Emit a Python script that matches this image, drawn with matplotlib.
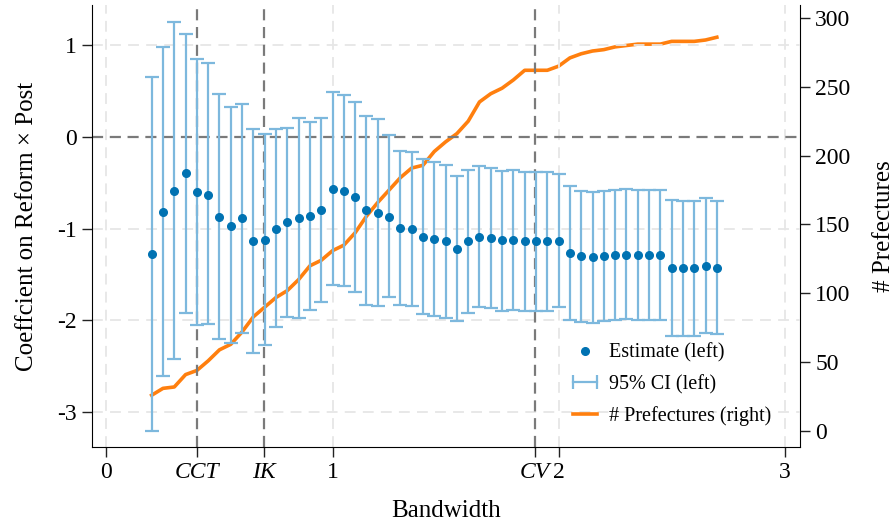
import numpy as np
import matplotlib
matplotlib.use("Agg")
import matplotlib.pyplot as plt
from matplotlib.lines import Line2D
from matplotlib.legend_handler import HandlerLine2D

plt.rcParams['font.family'] = ['Liberation Serif', 'DejaVu Serif']

bandwidth = [0.20, 0.25, 0.30, 0.35, 0.40, 0.45, 0.50, 0.55, 0.60, 0.65,
             0.70, 0.75, 0.80, 0.85, 0.90, 0.95, 1.00, 1.05, 1.10, 1.15,
             1.20, 1.25, 1.30, 1.35, 1.40, 1.45, 1.50, 1.55, 1.60, 1.65,
             1.70, 1.75, 1.80, 1.85, 1.90, 1.95, 2.00, 2.05, 2.10, 2.15,
             2.20, 2.25, 2.30, 2.35, 2.40, 2.45, 2.50, 2.55, 2.60, 2.65, 2.70]
estimate = [-1.28, -0.82, -0.59, -0.40, -0.60, -0.63, -0.87, -0.97, -0.89, -1.14,
            -1.12, -1.00, -0.93, -0.88, -0.86, -0.80, -0.57, -0.59, -0.66, -0.80,
            -0.83, -0.87, -0.99, -1.01, -1.09, -1.11, -1.14, -1.22, -1.14, -1.09,
            -1.10, -1.13, -1.12, -1.14, -1.14, -1.14, -1.14, -1.27, -1.30, -1.31,
            -1.30, -1.29, -1.29, -1.29, -1.29, -1.29, -1.43, -1.43, -1.43, -1.41, -1.43]
ci_upper = [0.65, 0.98, 1.25, 1.12, 0.85, 0.80, 0.47, 0.32, 0.36, 0.08,
            0.03, 0.08, 0.10, 0.21, 0.16, 0.21, 0.49, 0.45, 0.38, 0.23,
            0.19, 0.02, -0.15, -0.17, -0.24, -0.27, -0.31, -0.43, -0.36, -0.32,
            -0.34, -0.37, -0.36, -0.38, -0.38, -0.38, -0.41, -0.54, -0.59, -0.60,
            -0.59, -0.58, -0.57, -0.58, -0.58, -0.58, -0.69, -0.70, -0.70, -0.67, -0.70]
ci_lower = [-3.21, -2.61, -2.42, -1.92, -2.05, -2.04, -2.20, -2.25, -2.14, -2.36,
            -2.27, -2.07, -1.96, -1.97, -1.89, -1.80, -1.62, -1.63, -1.69, -1.83,
            -1.84, -1.75, -1.83, -1.84, -1.93, -1.95, -1.97, -2.01, -1.92, -1.85,
            -1.87, -1.90, -1.89, -1.90, -1.90, -1.90, -1.86, -2.00, -2.02, -2.03,
            -2.01, -2.00, -1.99, -2.00, -2.00, -2.00, -2.17, -2.17, -2.17, -2.14, -2.15]
prefectures = [26, 31, 32, 41, 44, 51, 59, 63, 72, 83,
               90, 97, 102, 110, 120, 124, 131, 135, 144, 156,
               166, 175, 184, 191, 193, 203, 210, 216, 225, 239,
               245, 249, 255, 262, 262, 262, 265, 271, 274, 276,
               277, 279, 280, 281, 281, 281, 283, 283, 283, 284, 286]

ref_bw_pos = [0.40, 0.695, 1.895]
ref_bw_labels = ['CCT', 'IK', 'CV']
xtick_pos = [0, 1, 2, 3]
ytick_left = [1, 0, -1, -2, -3]
ytick_right = [0, 50, 100, 150, 200, 250, 300]

dot_color = '#0072B2'
ci_color = '#7DB8DD'
orange = '#FF7F0E'

fig = plt.figure(figsize=(8.94, 5.23), dpi=100)
ax = fig.add_axes([0.1029, 0.1453, 0.792, 0.8451])
ax2 = ax.twinx()

bw = np.array(bandwidth)
est = np.array(estimate)
lo = np.array(ci_lower)
hi = np.array(ci_upper)

# grid
for x in xtick_pos:
    ax.axvline(x, color='#e6e6e6', lw=1.3, ls=(0, (6, 4)), zorder=0)
for y in [1, -1, -2, -3]:
    ax.axhline(y, color='#e6e6e6', lw=1.3, ls=(0, (6, 4)), zorder=0)

ax.axhline(0, color='#7a7a7a', lw=1.6, ls=(0, (5, 3)), zorder=1)
for x in ref_bw_pos:
    ax.axvline(x, color='#7a7a7a', lw=1.6, ls=(0, (5, 3)), zorder=1)

ax.errorbar(bw, est, yerr=[est - lo, hi - est], fmt='none', ecolor=ci_color,
            elinewidth=1.6, capsize=4.8, capthick=1.6, zorder=2)
ax.plot(bw, est, 'o', color=dot_color, ms=5.5, zorder=4)

ax2.plot(bw, prefectures, color=orange, lw=2.6, zorder=3)

ax.set_xlim(-0.064, 3.068)
ax.set_ylim(-3.381, 1.436)
ax2.set_ylim(-11.6, 309.4)

ticks = sorted(xtick_pos + ref_bw_pos)
labels = []
for t in ticks:
    if t in ref_bw_pos:
        labels.append(ref_bw_labels[ref_bw_pos.index(t)])
    else:
        labels.append(str(t))
ax.set_xticks(ticks)
ax.set_xticklabels(labels)
for lab in ax.get_xticklabels():
    if lab.get_text() in ref_bw_labels:
        lab.set_fontstyle('italic')
ax.set_yticks(ytick_left)
ax.set_yticklabels([str(v) for v in ytick_left])
ax2.set_yticks(ytick_right)

for a in (ax, ax2):
    a.tick_params(labelsize=17, length=7, width=1.0, color='#222222', pad=4)
    a.spines['top'].set_visible(False)
ax.spines['right'].set_visible(False)
ax2.spines['left'].set_visible(False)
ax2.spines['bottom'].set_visible(False)

ax.set_xlabel('Bandwidth', fontsize=18, labelpad=12)
ax.set_ylabel('Coeffcient on Reform × Post', fontsize=18, labelpad=14)
ax2.set_ylabel('# Prefectures', fontsize=18, labelpad=16)

ax.set_zorder(ax2.get_zorder() + 1)
ax.patch.set_visible(False)

h_est = Line2D([], [], ls='none', marker='o', color=dot_color, ms=5.5)
h_ci = Line2D([], [], color=ci_color, lw=1.6, marker='|', ms=10, mew=1.6)
h_pref = Line2D([], [], color=orange, lw=2.6)
ax.legend([h_est, h_ci, h_pref],
          ['Estimate (left)', '95% CI (left)', '# Prefectures (right)'],
          handler_map={h_ci: HandlerLine2D(numpoints=2, marker_pad=0.0)},
          loc='lower right', bbox_to_anchor=(0.985, 0.006), frameon=False,
          fontsize=14.5, handlelength=1.2, handletextpad=0.6, labelspacing=0.6)

fig.savefig('out.png', dpi=100)
